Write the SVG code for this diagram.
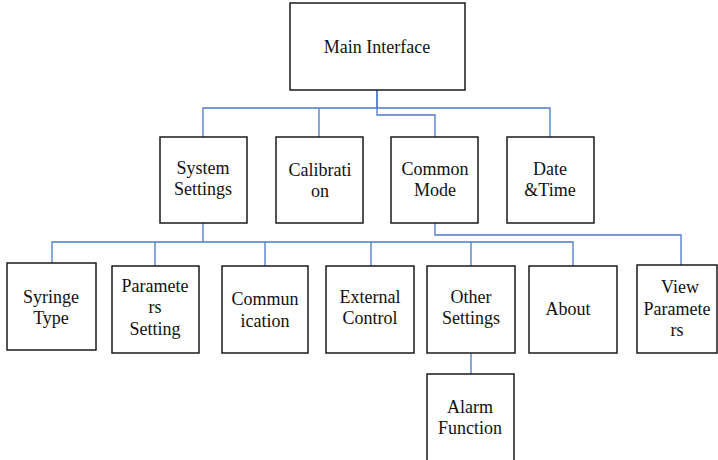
<svg xmlns="http://www.w3.org/2000/svg" width="718" height="460" viewBox="0 0 718 460">
<style>
rect.b{fill:#fff;stroke:#1a1a1a;stroke-width:1.5}
text{font-family:'Liberation Serif','DejaVu Serif',serif;font-size:18px;fill:#111;text-anchor:middle}
.c path{fill:none;stroke:#4a7bc8;stroke-width:1.3}
</style>
<rect width="718" height="460" fill="#fff"/>
<g class="c" id="connectors">
<path d="M377,90 V115 H435 V137"/>
<path d="M377,90 V108"/>
<path d="M203,137 V108 H550 V137"/>
<path d="M319,108 V137"/>
<path d="M203,223 V242"/>
<path d="M52,263 V242 H573 V266"/>
<path d="M155,242 V266"/>
<path d="M265,242 V266"/>
<path d="M371,242 V266"/>
<path d="M471,242 V266"/>
<path d="M435,223 V235 H681 V265"/>
<path d="M471,353 V374"/>
</g>
<g id="main"><rect class="b" x="290" y="3" width="175" height="87"/><text x="377" y="53">Main Interface</text></g>
<g id="system"><rect class="b" x="160" y="137" width="87" height="86"/><text x="203" y="174">System</text><text x="203" y="195">Settings</text></g>
<g id="calibration"><rect class="b" x="276" y="137" width="87" height="86"/><text x="320" y="176">Calibrati</text><text x="320" y="197">on</text></g>
<g id="common"><rect class="b" x="391" y="137" width="87" height="86"/><text x="435" y="175">Common</text><text x="435" y="196">Mode</text></g>
<g id="datetime"><rect class="b" x="507" y="137" width="87" height="86"/><text x="550" y="175">Date</text><text x="550" y="196">&amp;Time</text></g>
<g id="syringe"><rect class="b" x="7" y="263" width="89" height="87"/><text x="51" y="303">Syringe</text><text x="51" y="324">Type</text></g>
<g id="params"><rect class="b" x="112" y="266" width="87" height="87"/><text x="155" y="292">Paramete</text><text x="155" y="313">rs</text><text x="155" y="335">Setting</text></g>
<g id="comm"><rect class="b" x="222" y="266" width="86" height="87"/><text x="265" y="305">Commun</text><text x="265" y="327">ication</text></g>
<g id="external"><rect class="b" x="326" y="266" width="88" height="87"/><text x="370" y="303">External</text><text x="370" y="324">Control</text></g>
<g id="other"><rect class="b" x="427" y="266" width="88" height="87"/><text x="471" y="303">Other</text><text x="471" y="324">Settings</text></g>
<g id="about"><rect class="b" x="529" y="266" width="88" height="87"/><text x="568" y="315">About</text></g>
<g id="view"><rect class="b" x="637" y="265" width="80" height="88"/><text x="680" y="293">View</text><text x="677" y="315">Paramete</text><text x="677" y="336">rs</text></g>
<g id="alarm"><rect class="b" x="427" y="374" width="87" height="90"/><text x="470" y="413">Alarm</text><text x="470" y="434">Function</text></g>
</svg>
